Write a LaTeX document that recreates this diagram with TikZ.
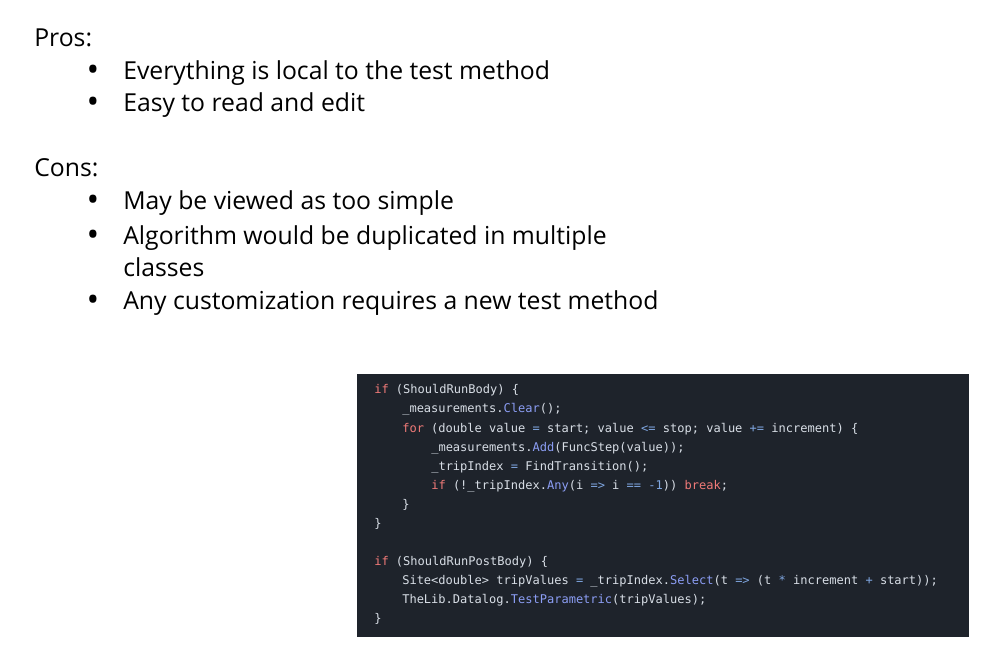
\documentclass[tikz,border=0pt]{standalone}
\usepackage{fontspec}
\setmainfont{Open Sans}
\setmonofont{DejaVu Sans Mono}
\definecolor{codebg}{HTML}{1E232B}
\definecolor{codefg}{HTML}{D8DEE6}
\definecolor{kwcol}{HTML}{F07A78}
\definecolor{fncol}{HTML}{8C9EF5}
\definecolor{opcol}{HTML}{7FA6E0}
\newcommand{\kw}[1]{\textcolor{kwcol}{#1}}
\newcommand{\fn}[1]{\textcolor{fncol}{#1}}
\newcommand{\op}[1]{\textcolor{opcol}{#1}}
\tikzset{
  head/.style={anchor=base west, inner sep=0pt, font=\fontsize{17.6}{21}\selectfont},
  item/.style={anchor=base west, inner sep=0pt, font=\fontsize{17.6}{21}\selectfont},
  dot/.style={anchor=base, inner sep=0pt, font=\fontsize{24}{21}\selectfont},
  code/.style={anchor=base west, text=codefg, inner sep=0pt, font=\ttfamily\fontsize{8.55}{10}\selectfont}
}
\begin{document}
\begin{tikzpicture}[x=0.025cm, y=-0.025cm]
    \useasboundingbox (0,0) rectangle (1002,665);
    % Pros and cons
    \node[head] (pros) at (34, 46) {Pros:};
    \node[dot] (b1) at (93, 81) {•};
    \node[item] (p1) at (123, 79) {Everything is local to the test method};
    \node[dot] (b2) at (93, 113) {•};
    \node[item] (p2) at (123, 111) {Easy to read and edit};

    \node[head] (cons) at (34, 176) {Cons:};
    \node[dot] (b3) at (93, 211) {•};
    \node[item] (c1) at (123, 209) {May be viewed as too simple};
    \node[dot] (b4) at (93, 246) {•};
    \node[item] (c2) at (123, 244) {Algorithm would be duplicated in multiple};
    \node[item] (c2b) at (123, 276) {classes};
    \node[dot] (b5) at (93, 311) {•};
    \node[item] (c3) at (123, 309) {Any customization requires a new test method};

    % Code block
    \fill[codebg] (357, 374) rectangle (969, 637);
    \node[code] (l1) at (374, 393) {\kw{if} (ShouldRunBody) \{};
    \node[code] (l2) at (402, 412) {\_measurements.\fn{Clear}();};
    \node[code] (l3) at (402, 432) {\kw{for} (double value \op{=} start; value \op{<=} stop; value \op{+=} increment) \{};
    \node[code] (l4) at (431, 451) {\_measurements.\fn{Add}(FuncStep(value));};
    \node[code] (l5) at (431, 470) {\_tripIndex \op{=} FindTransition();};
    \node[code] (l6) at (431, 489) {\kw{if} (!\_tripIndex.\fn{Any}(i \op{=>} i \op{==} \op{-1})) \kw{break};};
    \node[code] (l7) at (402, 508) {\}};
    \node[code] (l8) at (374, 527) {\}};
    \node[code] (l9) at (374, 565) {\kw{if} (ShouldRunPostBody) \{};
    \node[code] (l10) at (402, 584) {Site<double> tripValues \op{=} \_tripIndex.\fn{Select}(t \op{=>} (t \op{*} increment \op{+} start));};
    \node[code] (l11) at (402, 603) {TheLib.Datalog.\fn{TestParametric}(tripValues);};
    \node[code] (l12) at (374, 622) {\}};
\end{tikzpicture}
\end{document}
